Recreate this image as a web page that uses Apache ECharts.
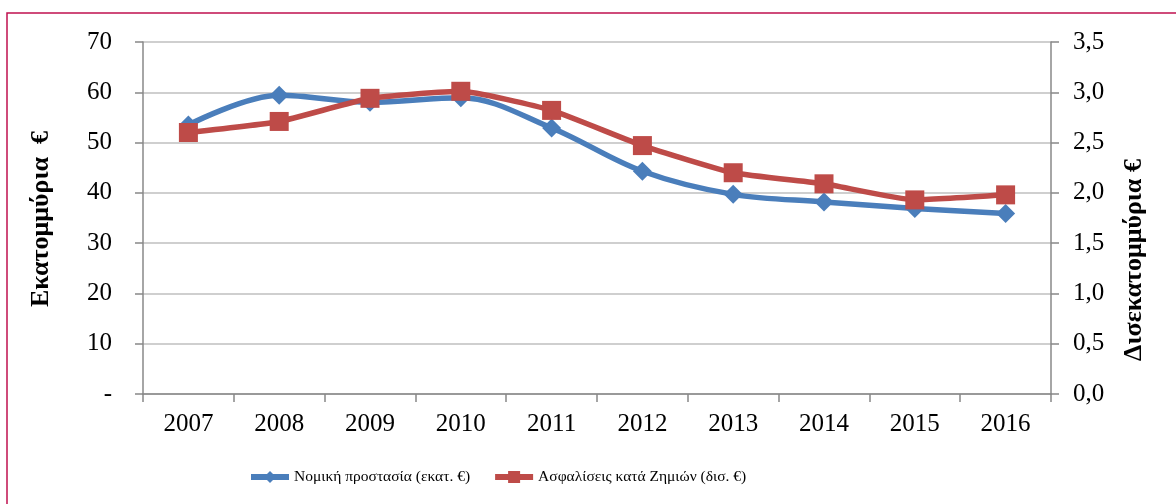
<!DOCTYPE html>
<html><head><meta charset="utf-8">
<script src="https://cdn.jsdelivr.net/npm/echarts@6/dist/echarts.min.js"></script>
<style>html,body{margin:0;padding:0;background:#fff}#c{width:1176px;height:504px}</style>
</head><body><div id="c"></div>
<script>
const years = ['2007','2008','2009','2010','2011','2012','2013','2014','2015','2016'];
const legalProtection = [53.5, 59.4, 58.0, 58.9, 52.9, 44.3, 39.7, 38.2, 36.9, 35.9];
const damageInsurance = [2.60, 2.71, 2.94, 3.01, 2.82, 2.47, 2.20, 2.09, 1.93, 1.98];
const leftName = 'Εκατομμύρια  €';
const rightName = 'Δισεκατομμύρια €';
const seriesNames = ['Νομική προστασία (εκατ. €)', 'Ασφαλίσεις κατά Ζημιών (δισ. €)'];

const font = 'Liberation Serif';
const chart = echarts.init(document.getElementById('c'), null, {renderer:'canvas'});
chart.setOption({
  animation:false,
  backgroundColor:'#fff',
  textStyle:{fontFamily:font},
  grid:{left:143, right:125, top:42, bottom:110},
  graphic:[
    {type:'rect', shape:{x:7,y:13,width:1300,height:700}, style:{fill:'none', stroke:'#C0114F', lineWidth:1.5}, z:100},
    {type:'text', x:41, y:219, rotation:Math.PI/2, style:{text:leftName, font:'bold 26px "Liberation Serif"', fill:'#000', align:'center', verticalAlign:'middle'}},
    {type:'text', x:1134, y:260, rotation:Math.PI/2, style:{text:rightName, font:'bold 26px "Liberation Serif"', fill:'#000', align:'center', verticalAlign:'middle'}}
  ],
  legend:{
    left:243, top:464, itemWidth:38, itemHeight:15, itemGap:22,
    textStyle:{fontFamily:font, fontSize:15.5, color:'#000'},
    lineStyle:{width:6},
    data:seriesNames
  },
  xAxis:{
    type:'category', data:years, boundaryGap:true,
    axisLine:{lineStyle:{color:'#888', width:1.5}},
    axisTick:{show:true, length:8, lineStyle:{color:'#888', width:1.5}, alignWithLabel:false},
    axisLabel:{fontFamily:font, fontSize:25, color:'#000', margin:18}
  },
  yAxis:[
    {type:'value', min:0, max:70, interval:10, position:'left',
     axisLine:{show:true, lineStyle:{color:'#888', width:1.5}},
     axisTick:{show:true, length:8, lineStyle:{color:'#888', width:1.5}},
     splitLine:{show:true, lineStyle:{color:'#bfbfbf', width:1.5}},
     axisLabel:{fontFamily:font, fontSize:25, color:'#000', margin:31,
       formatter:v => v===0 ? '-' : String(v)}},
    {type:'value', min:0, max:3.5, interval:0.5, position:'right',
     axisLine:{show:true, lineStyle:{color:'#888', width:1.5}},
     axisTick:{show:true, length:8, lineStyle:{color:'#888', width:1.5}},
     splitLine:{show:false},
     axisLabel:{fontFamily:font, fontSize:25, color:'#000', margin:22,
       formatter:v => v.toFixed(1).replace('.', ',')}}
  ],
  series:[
    {name:seriesNames[0], type:'line', yAxisIndex:0, data:legalProtection, smooth:0.35,
     symbol:'diamond', symbolSize:[19,19], color:'#4A7EBB',
     lineStyle:{width:5.5, color:'#4A7EBB'}, itemStyle:{color:'#4A7EBB'}, z:2},
    {name:seriesNames[1], type:'line', yAxisIndex:1, data:damageInsurance, smooth:0.15,
     symbol:'rect', symbolSize:[19,19], color:'#BE4B48',
     lineStyle:{width:5.5, color:'#BE4B48'}, itemStyle:{color:'#BE4B48'}, z:3}
  ]
});
</script></body></html>
